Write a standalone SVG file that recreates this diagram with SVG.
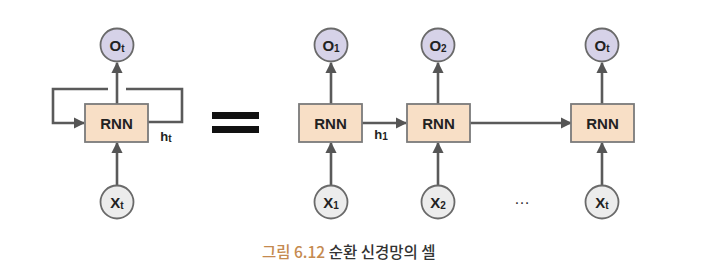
<svg xmlns="http://www.w3.org/2000/svg" width="704" height="280" viewBox="0 0 704 280">
<defs>
<marker id="ah" viewBox="0 0 10 10" refX="9" refY="5" markerWidth="4.4" markerHeight="4.4" markerUnits="strokeWidth" orient="auto">
<path d="M0,0 L10,5 L0,10 z" fill="#555"/>
</marker>
<style>
.box{fill:#f8dfc6;stroke:#7a7a7a;stroke-width:1.8}
.o{fill:#d6d2e8;stroke:#6a6a6a;stroke-width:1.8}
.x{fill:#ececec;stroke:#6a6a6a;stroke-width:1.8}
.c{fill:none;stroke:#5a5a5a;stroke-width:2.6}
.t{font-family:"Liberation Sans",Arial,sans-serif;font-weight:bold;fill:#222;text-anchor:middle}
.lab{font-size:15px}
.sub{font-size:10px}
.cap{font-family:"Noto Sans CJK KR","Noto Sans",sans-serif;font-size:15.5px;font-weight:500}
</style>
</defs>
<rect width="704" height="280" fill="#fff"/>
<g id="connectors">
<path class="c" d="M117,185 V143" marker-end="url(#ah)"/>
<path class="c" d="M117,104 V63" marker-end="url(#ah)"/>
<path class="c" d="M108,89 H53 V123 H84" marker-end="url(#ah)"/>
<path class="c" d="M126,89 H182 V122 H148"/>
<path class="c" d="M331,185 V143" marker-end="url(#ah)"/>
<path class="c" d="M331,104 V63" marker-end="url(#ah)"/>
<path class="c" d="M438,185 V143" marker-end="url(#ah)"/>
<path class="c" d="M438,104 V63" marker-end="url(#ah)"/>
<path class="c" d="M602,185 V143" marker-end="url(#ah)"/>
<path class="c" d="M602,104 V63" marker-end="url(#ah)"/>
<path class="c" d="M362,123 H406" marker-end="url(#ah)"/>
<path class="c" d="M470,123 H571" marker-end="url(#ah)"/>
</g>
<g id="equals">
<rect x="212" y="112" width="47" height="7" fill="#111"/>
<rect x="212" y="126" width="47" height="7" fill="#111"/>
</g>
<g id="rnn_loop">
<rect class="box" x="85" y="104" width="63" height="38"/>
<text class="t lab" x="116.5" y="128.5">RNN</text>
</g>
<g id="ht_label"><text class="t" x="166" y="141" font-size="13">h<tspan class="sub" dy="1">t</tspan></text></g>
<g id="o_t_left"><circle class="o" cx="117" cy="45" r="16.5"/><text class="t lab" x="117" y="50.5">O<tspan class="sub" dy="1">t</tspan></text></g>
<g id="x_t_left"><circle class="x" cx="117" cy="202" r="16.5"/><text class="t lab" x="117" y="207.5">X<tspan class="sub" dy="1">t</tspan></text></g>
<g id="rnn1"><rect class="box" x="299" y="104" width="63" height="38"/><text class="t lab" x="330.5" y="128.5">RNN</text></g>
<g id="rnn2"><rect class="box" x="407" y="104" width="63" height="38"/><text class="t lab" x="438.5" y="128.5">RNN</text></g>
<g id="rnn3"><rect class="box" x="571" y="104" width="63" height="38"/><text class="t lab" x="602.5" y="128.5">RNN</text></g>
<g id="h1_label"><text class="t" x="381" y="139" font-size="13">h<tspan class="sub" dy="1">1</tspan></text></g>
<g id="o1"><circle class="o" cx="331" cy="45" r="16.5"/><text class="t lab" x="331" y="50.5">O<tspan class="sub" dy="1">1</tspan></text></g>
<g id="o2"><circle class="o" cx="438" cy="45" r="16.5"/><text class="t lab" x="438" y="50.5">O<tspan class="sub" dy="1">2</tspan></text></g>
<g id="ot"><circle class="o" cx="602" cy="45" r="16.5"/><text class="t lab" x="602" y="50.5">O<tspan class="sub" dy="1">t</tspan></text></g>
<g id="x1"><circle class="x" cx="331" cy="202" r="16.5"/><text class="t lab" x="331" y="207.5">X<tspan class="sub" dy="1">1</tspan></text></g>
<g id="x2"><circle class="x" cx="438" cy="202" r="16.5"/><text class="t lab" x="438" y="207.5">X<tspan class="sub" dy="1">2</tspan></text></g>
<g id="xt"><circle class="x" cx="602" cy="202" r="16.5"/><text class="t lab" x="602" y="207.5">X<tspan class="sub" dy="1">t</tspan></text></g>
<g id="ellipsis"><text x="522" y="204" font-family="Liberation Sans,sans-serif" font-size="16" fill="#333" text-anchor="middle">…</text></g>
<g id="caption">
<text class="cap" x="262" y="258"><tspan fill="#c58a4f">그림 6.12</tspan><tspan fill="#333"> 순환 신경망의 셀</tspan></text>
</g>
</svg>
